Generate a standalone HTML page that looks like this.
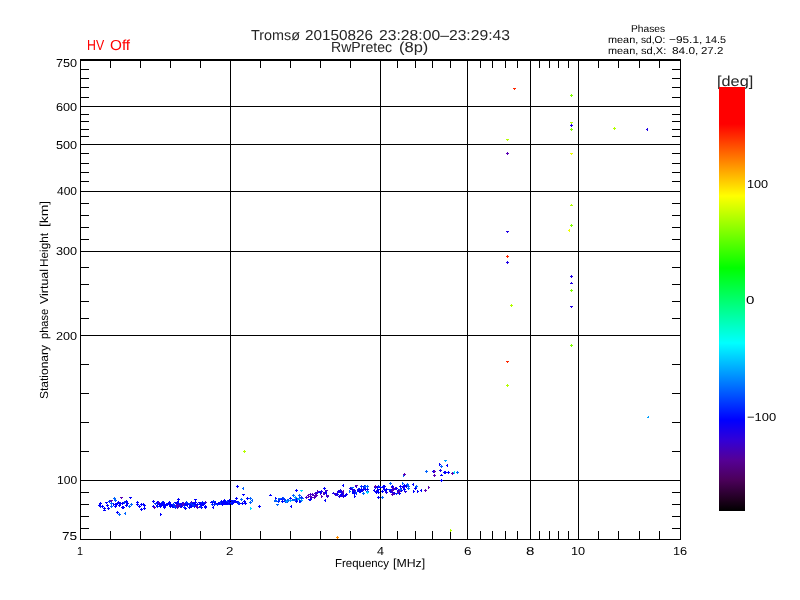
<!DOCTYPE html><html><head><meta charset="utf-8"><style>html,body{margin:0;padding:0;background:#fff;width:800px;height:600px;overflow:hidden}svg{display:block}text{font-family:"Liberation Sans",sans-serif;fill:#000}</style></head><body>
<svg width="800" height="600" viewBox="0 0 800 600" shape-rendering="crispEdges">
<rect width="800" height="600" fill="#fff"/>
<g fill="#000"><rect x="80" y="59" width="601" height="2"/><rect x="80" y="539" width="601" height="1"/><rect x="80" y="59" width="1" height="481"/><rect x="680" y="59" width="1" height="481"/><rect x="230" y="59" width="1" height="481"/><rect x="380" y="59" width="1" height="481"/><rect x="467" y="59" width="1" height="481"/><rect x="530" y="59" width="1" height="481"/><rect x="578" y="59" width="1" height="481"/><rect x="110" y="59" width="1" height="9"/><rect x="110" y="531" width="1" height="9"/><rect x="140" y="59" width="1" height="9"/><rect x="140" y="531" width="1" height="9"/><rect x="170" y="59" width="1" height="9"/><rect x="170" y="531" width="1" height="9"/><rect x="200" y="59" width="1" height="9"/><rect x="200" y="531" width="1" height="9"/><rect x="260" y="59" width="1" height="9"/><rect x="260" y="531" width="1" height="9"/><rect x="290" y="59" width="1" height="9"/><rect x="290" y="531" width="1" height="9"/><rect x="320" y="59" width="1" height="9"/><rect x="320" y="531" width="1" height="9"/><rect x="350" y="59" width="1" height="9"/><rect x="350" y="531" width="1" height="9"/><rect x="397" y="59" width="1" height="9"/><rect x="397" y="531" width="1" height="9"/><rect x="415" y="59" width="1" height="9"/><rect x="415" y="531" width="1" height="9"/><rect x="432" y="59" width="1" height="9"/><rect x="432" y="531" width="1" height="9"/><rect x="450" y="59" width="1" height="9"/><rect x="450" y="531" width="1" height="9"/><rect x="480" y="59" width="1" height="9"/><rect x="480" y="531" width="1" height="9"/><rect x="492" y="59" width="1" height="9"/><rect x="492" y="531" width="1" height="9"/><rect x="505" y="59" width="1" height="9"/><rect x="505" y="531" width="1" height="9"/><rect x="517" y="59" width="1" height="9"/><rect x="517" y="531" width="1" height="9"/><rect x="539" y="59" width="1" height="9"/><rect x="539" y="531" width="1" height="9"/><rect x="549" y="59" width="1" height="9"/><rect x="549" y="531" width="1" height="9"/><rect x="558" y="59" width="1" height="9"/><rect x="558" y="531" width="1" height="9"/><rect x="568" y="59" width="1" height="9"/><rect x="568" y="531" width="1" height="9"/><rect x="598" y="59" width="1" height="9"/><rect x="598" y="531" width="1" height="9"/><rect x="618" y="59" width="1" height="9"/><rect x="618" y="531" width="1" height="9"/><rect x="639" y="59" width="1" height="9"/><rect x="639" y="531" width="1" height="9"/><rect x="659" y="59" width="1" height="9"/><rect x="659" y="531" width="1" height="9"/><rect x="80" y="480" width="601" height="1"/><rect x="80" y="335" width="601" height="1"/><rect x="80" y="251" width="601" height="1"/><rect x="80" y="191" width="601" height="1"/><rect x="80" y="144" width="601" height="1"/><rect x="80" y="106" width="601" height="1"/><rect x="80" y="528" width="9" height="1"/><rect x="672" y="528" width="9" height="1"/><rect x="80" y="516" width="9" height="1"/><rect x="672" y="516" width="9" height="1"/><rect x="80" y="504" width="9" height="1"/><rect x="672" y="504" width="9" height="1"/><rect x="80" y="492" width="9" height="1"/><rect x="672" y="492" width="9" height="1"/><rect x="80" y="451" width="9" height="1"/><rect x="672" y="451" width="9" height="1"/><rect x="80" y="422" width="9" height="1"/><rect x="672" y="422" width="9" height="1"/><rect x="80" y="393" width="9" height="1"/><rect x="672" y="393" width="9" height="1"/><rect x="80" y="364" width="9" height="1"/><rect x="672" y="364" width="9" height="1"/><rect x="80" y="318" width="9" height="1"/><rect x="672" y="318" width="9" height="1"/><rect x="80" y="301" width="9" height="1"/><rect x="672" y="301" width="9" height="1"/><rect x="80" y="284" width="9" height="1"/><rect x="672" y="284" width="9" height="1"/><rect x="80" y="267" width="9" height="1"/><rect x="672" y="267" width="9" height="1"/><rect x="80" y="239" width="9" height="1"/><rect x="672" y="239" width="9" height="1"/><rect x="80" y="227" width="9" height="1"/><rect x="672" y="227" width="9" height="1"/><rect x="80" y="215" width="9" height="1"/><rect x="672" y="215" width="9" height="1"/><rect x="80" y="203" width="9" height="1"/><rect x="672" y="203" width="9" height="1"/><rect x="80" y="181" width="9" height="1"/><rect x="672" y="181" width="9" height="1"/><rect x="80" y="172" width="9" height="1"/><rect x="672" y="172" width="9" height="1"/><rect x="80" y="163" width="9" height="1"/><rect x="672" y="163" width="9" height="1"/><rect x="80" y="153" width="9" height="1"/><rect x="672" y="153" width="9" height="1"/><rect x="80" y="136" width="9" height="1"/><rect x="672" y="136" width="9" height="1"/><rect x="80" y="129" width="9" height="1"/><rect x="672" y="129" width="9" height="1"/><rect x="80" y="121" width="9" height="1"/><rect x="672" y="121" width="9" height="1"/><rect x="80" y="114" width="9" height="1"/><rect x="672" y="114" width="9" height="1"/><rect x="80" y="97" width="9" height="1"/><rect x="672" y="97" width="9" height="1"/><rect x="80" y="87" width="9" height="1"/><rect x="672" y="87" width="9" height="1"/><rect x="80" y="78" width="9" height="1"/><rect x="672" y="78" width="9" height="1"/><rect x="80" y="69" width="9" height="1"/><rect x="672" y="69" width="9" height="1"/></g>
<defs><linearGradient id="cb" x1="0" y1="87" x2="0" y2="511" gradientUnits="userSpaceOnUse">
<stop offset="0.0000" stop-color="rgb(255,0,0)"/>
<stop offset="0.0873" stop-color="rgb(255,0,0)"/>
<stop offset="0.2571" stop-color="rgb(255,255,0)"/>
<stop offset="0.4269" stop-color="rgb(0,255,0)"/>
<stop offset="0.6038" stop-color="rgb(0,255,255)"/>
<stop offset="0.7854" stop-color="rgb(0,0,255)"/>
<stop offset="0.8325" stop-color="rgb(50,0,215)"/>
<stop offset="0.8797" stop-color="rgb(85,0,150)"/>
<stop offset="0.9269" stop-color="rgb(75,0,90)"/>
<stop offset="0.9741" stop-color="rgb(30,0,30)"/>
<stop offset="1.0000" stop-color="rgb(0,0,0)"/>
</linearGradient></defs>

<g shape-rendering="auto" text-rendering="geometricPrecision" style="will-change:transform">
<text x="251.0" y="40" font-size="14.5" textLength="49.04" lengthAdjust="spacingAndGlyphs" style="fill:#262626">Tromsø</text>
<text x="305.0" y="40" font-size="14.5" textLength="68.08" lengthAdjust="spacingAndGlyphs" style="fill:#262626">20150826</text>
<text x="379.0" y="40" font-size="14.5" textLength="131.05" lengthAdjust="spacingAndGlyphs" style="fill:#262626">23:28:00–23:29:43</text>
<text x="331.0" y="52" font-size="14.5" textLength="61.07" lengthAdjust="spacingAndGlyphs" style="fill:#262626">RwPretec</text>
<text x="399.0" y="52" font-size="14.5" textLength="29.3" lengthAdjust="spacingAndGlyphs" style="fill:#262626">(8p)</text>
<text x="87.0" y="50" font-size="14.5" textLength="17.14" lengthAdjust="spacingAndGlyphs" style="fill:#f00">HV</text>
<text x="110.0" y="50" font-size="14.5" textLength="20.12" lengthAdjust="spacingAndGlyphs" style="fill:#f00">Off</text>
<text x="631.0" y="32" font-size="10" textLength="34.06" lengthAdjust="spacingAndGlyphs">Phases</text>
<text x="608.0" y="43" font-size="10" textLength="30.24" lengthAdjust="spacingAndGlyphs">mean,</text>
<text x="641.0" y="43" font-size="10" textLength="24.31" lengthAdjust="spacingAndGlyphs">sd,O:</text>
<text x="669.0" y="43" font-size="10" textLength="33.29" lengthAdjust="spacingAndGlyphs">−95.1,</text>
<text x="705.0" y="43" font-size="10" textLength="21.11" lengthAdjust="spacingAndGlyphs">14.5</text>
<text x="608.0" y="54" font-size="10" textLength="30.24" lengthAdjust="spacingAndGlyphs">mean,</text>
<text x="641.0" y="54" font-size="10" textLength="25.3" lengthAdjust="spacingAndGlyphs">sd,X:</text>
<text x="672.0" y="54" font-size="10" textLength="26.37" lengthAdjust="spacingAndGlyphs">84.0,</text>
<text x="701.0" y="54" font-size="10" textLength="22.28" lengthAdjust="spacingAndGlyphs">27.2</text>
<text x="335.0" y="567" font-size="11.6" textLength="54.04" lengthAdjust="spacingAndGlyphs">Frequency</text>
<text x="393.0" y="567" font-size="11.6" textLength="32.18" lengthAdjust="spacingAndGlyphs">[MHz]</text>
<text x="717.0" y="86" font-size="14.5" textLength="36.26" lengthAdjust="spacingAndGlyphs" style="fill:#262626">[deg]</text>
<text x="747.0" y="188" font-size="11.6" textLength="21.11" lengthAdjust="spacingAndGlyphs">100</text>
<text x="746.0" y="304" font-size="11.6" textLength="8.4" lengthAdjust="spacingAndGlyphs">0</text>
<text x="747.0" y="421" font-size="11.6" textLength="29.16" lengthAdjust="spacingAndGlyphs">−100</text>
<text x="56.0" y="67" font-size="11.6" textLength="21.11" lengthAdjust="spacingAndGlyphs">750</text>
<text x="56.0" y="111" font-size="11.6" textLength="21.11" lengthAdjust="spacingAndGlyphs">600</text>
<text x="56.0" y="149" font-size="11.6" textLength="21.11" lengthAdjust="spacingAndGlyphs">500</text>
<text x="57.0" y="195" font-size="11.6" textLength="20.0" lengthAdjust="spacingAndGlyphs">400</text>
<text x="56.0" y="255" font-size="11.6" textLength="21.11" lengthAdjust="spacingAndGlyphs">300</text>
<text x="56.0" y="340" font-size="11.6" textLength="21.11" lengthAdjust="spacingAndGlyphs">200</text>
<text x="57.0" y="484" font-size="11.6" textLength="20.12" lengthAdjust="spacingAndGlyphs">100</text>
<text x="62.0" y="540" font-size="11.6" textLength="15.17" lengthAdjust="spacingAndGlyphs">75</text>
<text x="77.0" y="555" font-size="11.6" textLength="6.0" lengthAdjust="spacingAndGlyphs">1</text>
<text x="226.0" y="555" font-size="11.6" textLength="7.43" lengthAdjust="spacingAndGlyphs">2</text>
<text x="377.0" y="555" font-size="11.6" textLength="7.0" lengthAdjust="spacingAndGlyphs">4</text>
<text x="464.0" y="555" font-size="11.6" textLength="7.5" lengthAdjust="spacingAndGlyphs">6</text>
<text x="526.0" y="555" font-size="11.6" textLength="8.4" lengthAdjust="spacingAndGlyphs">8</text>
<text x="571.0" y="555" font-size="11.6" textLength="14.18" lengthAdjust="spacingAndGlyphs">10</text>
<text x="673.0" y="555" font-size="11.6" textLength="14.18" lengthAdjust="spacingAndGlyphs">16</text>
<g transform="translate(48,398) rotate(-90)"><text x="-1.0" y="0" font-size="11.6" textLength="54.04" lengthAdjust="spacingAndGlyphs">Stationary</text><text x="59.0" y="0" font-size="11.6" textLength="30.07" lengthAdjust="spacingAndGlyphs">phase</text><text x="94.0" y="0" font-size="11.6" textLength="35.06" lengthAdjust="spacingAndGlyphs">Virtual</text><text x="131.0" y="0" font-size="11.6" textLength="34.06" lengthAdjust="spacingAndGlyphs">Height</text><text x="171.0" y="0" font-size="11.6" textLength="26.23" lengthAdjust="spacingAndGlyphs">[km]</text></g>
</g>
<rect x="719" y="87" width="26" height="424" fill="url(#cb)"/>
<g shape-rendering="crispEdges"><path d="M513 88h1v1h-1zM514 88h1v1h-1zM515 88h1v1h-1zM514 89h1v1h-1z" fill="#ff2800"/><path d="M571 95h1v1h-1zM570 95h1v1h-1zM572 95h1v1h-1zM571 94h1v1h-1zM571 96h1v1h-1z" fill="#80ff00"/><path d="M570 122h1v1h-1zM571 122h1v1h-1zM572 122h1v1h-1zM571 123h1v1h-1z" fill="#b4ff00"/><path d="M571 129h1v1h-1zM570 129h1v1h-1zM572 129h1v1h-1zM571 128h1v1h-1zM571 130h1v1h-1z" fill="#80ff00"/><path d="M571 125h1v1h-1zM570 125h1v1h-1zM572 125h1v1h-1zM571 124h1v1h-1zM571 126h1v1h-1z" fill="#2000e6"/><path d="M506 139h1v1h-1zM507 139h1v1h-1zM508 139h1v1h-1zM507 140h1v1h-1z" fill="#b4ff00"/><path d="M507 153h1v1h-1zM506 153h1v1h-1zM508 153h1v1h-1zM507 152h1v1h-1zM507 154h1v1h-1z" fill="#5a00b4"/><path d="M570 153h1v1h-1zM571 153h1v1h-1zM572 153h1v1h-1zM571 154h1v1h-1z" fill="#f0ff00"/><path d="M571 204h1v1h-1zM570 205h1v1h-1zM571 205h1v1h-1zM572 205h1v1h-1z" fill="#b4ff00"/><path d="M571 225h1v1h-1zM570 225h1v1h-1zM572 225h1v1h-1zM571 224h1v1h-1zM571 226h1v1h-1z" fill="#80ff00"/><path d="M569 229h1v1h-1zM569 230h1v1h-1zM569 231h1v1h-1zM568 230h1v1h-1z" fill="#f0ff00"/><path d="M506 231h1v1h-1zM507 231h1v1h-1zM508 231h1v1h-1zM507 232h1v1h-1z" fill="#2000e6"/><path d="M507 256h1v1h-1zM506 256h1v1h-1zM508 256h1v1h-1zM507 255h1v1h-1zM507 257h1v1h-1z" fill="#ff2800"/><path d="M507 262h1v1h-1zM506 262h1v1h-1zM508 262h1v1h-1zM507 261h1v1h-1zM507 263h1v1h-1z" fill="#2000e6"/><path d="M571 276h1v1h-1zM570 276h1v1h-1zM572 276h1v1h-1zM571 275h1v1h-1zM571 277h1v1h-1z" fill="#2000e6"/><path d="M571 282h1v1h-1zM570 283h1v1h-1zM571 283h1v1h-1zM572 283h1v1h-1z" fill="#2000e6"/><path d="M571 290h1v1h-1zM570 290h1v1h-1zM572 290h1v1h-1zM571 289h1v1h-1zM571 291h1v1h-1z" fill="#80ff00"/><path d="M511 305h1v1h-1zM510 305h1v1h-1zM512 305h1v1h-1zM511 304h1v1h-1zM511 306h1v1h-1z" fill="#b4ff00"/><path d="M570 306h1v1h-1zM571 306h1v1h-1zM572 306h1v1h-1zM571 307h1v1h-1z" fill="#2000e6"/><path d="M571 345h1v1h-1zM570 345h1v1h-1zM572 345h1v1h-1zM571 344h1v1h-1zM571 346h1v1h-1z" fill="#80ff00"/><path d="M506 361h1v1h-1zM507 361h1v1h-1zM508 361h1v1h-1zM507 362h1v1h-1z" fill="#ff2800"/><path d="M507 385h1v1h-1zM506 385h1v1h-1zM508 385h1v1h-1zM507 384h1v1h-1zM507 386h1v1h-1z" fill="#b4ff00"/><path d="M614 128h1v1h-1zM613 128h1v1h-1zM615 128h1v1h-1zM614 127h1v1h-1zM614 129h1v1h-1z" fill="#b4ff00"/><path d="M647 128h1v1h-1zM647 129h1v1h-1zM647 130h1v1h-1zM646 129h1v1h-1z" fill="#2000e6"/><path d="M647 417h1v1h-1zM648 417h1v1h-1zM648 416h1v1h-1z" fill="#00a0ff"/><path d="M244 451h1v1h-1zM243 451h1v1h-1zM245 451h1v1h-1zM244 450h1v1h-1zM244 452h1v1h-1z" fill="#b4ff00"/><path d="M337 537h1v1h-1zM336 537h1v1h-1zM338 537h1v1h-1zM337 536h1v1h-1zM337 538h1v1h-1z" fill="#ff8c00"/><path d="M450 529h1v1h-1zM450 530h1v1h-1zM450 531h1v1h-1zM451 530h1v1h-1z" fill="#b4ff00"/><path d="M113 503h1v1h-1zM113 504h1v1h-1zM113 505h1v1h-1zM114 504h1v1h-1z" fill="#0000ff"/><path d="M115 503h1v1h-1zM115 504h1v1h-1zM115 505h1v1h-1zM116 504h1v1h-1z" fill="#0000ff"/><path d="M119 504h1v1h-1zM119 505h1v1h-1zM119 506h1v1h-1zM120 505h1v1h-1z" fill="#0000ff"/><path d="M109 501h1v1h-1zM108 501h1v1h-1zM110 501h1v1h-1zM109 500h1v1h-1zM109 502h1v1h-1z" fill="#0030ff"/><path d="M118 502h1v1h-1zM117 502h1v1h-1zM119 502h1v1h-1zM118 501h1v1h-1zM118 503h1v1h-1z" fill="#0000ff"/><path d="M119 505h1v1h-1zM118 505h1v1h-1zM120 505h1v1h-1zM119 504h1v1h-1zM119 506h1v1h-1z" fill="#0000ff"/><path d="M100 506h1v1h-1zM99 506h1v1h-1zM101 506h1v1h-1zM100 505h1v1h-1zM100 507h1v1h-1z" fill="#0030ff"/><path d="M124 502h1v1h-1zM123 502h1v1h-1zM125 502h1v1h-1zM124 501h1v1h-1zM124 503h1v1h-1z" fill="#0030ff"/><path d="M116 504h1v1h-1zM115 504h1v1h-1zM117 504h1v1h-1zM116 503h1v1h-1zM116 505h1v1h-1z" fill="#0000ff"/><path d="M187 503h1v1h-1zM187 504h1v1h-1zM187 505h1v1h-1zM186 504h1v1h-1z" fill="#0000ff"/><path d="M204 507h1v1h-1zM205 507h1v1h-1zM206 507h1v1h-1zM205 508h1v1h-1z" fill="#0000ff"/><path d="M169 503h1v1h-1zM168 503h1v1h-1zM170 503h1v1h-1zM169 502h1v1h-1zM169 504h1v1h-1z" fill="#0000ff"/><path d="M157 506h1v1h-1zM156 506h1v1h-1zM158 506h1v1h-1zM157 505h1v1h-1zM157 507h1v1h-1z" fill="#0030ff"/><path d="M197 504h1v1h-1zM196 504h1v1h-1zM198 504h1v1h-1zM197 503h1v1h-1zM197 505h1v1h-1z" fill="#0000ff"/><path d="M164 506h1v1h-1zM164 507h1v1h-1zM164 508h1v1h-1zM165 507h1v1h-1z" fill="#0000ff"/><path d="M173 505h1v1h-1zM172 505h1v1h-1zM174 505h1v1h-1zM173 504h1v1h-1zM173 506h1v1h-1z" fill="#0030ff"/><path d="M182 502h1v1h-1zM181 503h1v1h-1zM182 503h1v1h-1zM183 503h1v1h-1z" fill="#0000ff"/><path d="M158 503h1v1h-1zM157 503h1v1h-1zM159 503h1v1h-1zM158 502h1v1h-1zM158 504h1v1h-1z" fill="#0030ff"/><path d="M160 505h1v1h-1zM159 505h1v1h-1zM161 505h1v1h-1zM160 504h1v1h-1zM160 506h1v1h-1z" fill="#0000ff"/><path d="M177 504h1v1h-1zM176 504h1v1h-1zM178 504h1v1h-1zM177 503h1v1h-1zM177 505h1v1h-1z" fill="#4600c8"/><path d="M176 502h1v1h-1zM176 503h1v1h-1zM176 504h1v1h-1zM175 503h1v1h-1z" fill="#0000ff"/><path d="M186 502h1v1h-1zM185 502h1v1h-1zM187 502h1v1h-1zM186 501h1v1h-1zM186 503h1v1h-1z" fill="#0030ff"/><path d="M153 506h1v1h-1zM152 506h1v1h-1zM154 506h1v1h-1zM153 505h1v1h-1zM153 507h1v1h-1z" fill="#0000ff"/><path d="M164 504h1v1h-1zM163 504h1v1h-1zM165 504h1v1h-1zM164 503h1v1h-1zM164 505h1v1h-1z" fill="#0000ff"/><path d="M204 503h1v1h-1zM203 503h1v1h-1zM205 503h1v1h-1zM204 502h1v1h-1zM204 504h1v1h-1z" fill="#0000ff"/><path d="M193 502h1v1h-1zM193 503h1v1h-1zM193 504h1v1h-1zM192 503h1v1h-1z" fill="#0000ff"/><path d="M157 502h1v1h-1zM156 502h1v1h-1zM158 502h1v1h-1zM157 501h1v1h-1zM157 503h1v1h-1z" fill="#0000ff"/><path d="M184 504h1v1h-1zM183 504h1v1h-1zM185 504h1v1h-1zM184 503h1v1h-1zM184 505h1v1h-1z" fill="#0030ff"/><path d="M203 503h1v1h-1zM203 504h1v1h-1zM203 505h1v1h-1zM202 504h1v1h-1z" fill="#0000ff"/><path d="M163 502h1v1h-1zM162 502h1v1h-1zM164 502h1v1h-1zM163 501h1v1h-1zM163 503h1v1h-1z" fill="#0000ff"/><path d="M191 502h1v1h-1zM190 502h1v1h-1zM192 502h1v1h-1zM191 501h1v1h-1zM191 503h1v1h-1z" fill="#4600c8"/><path d="M189 504h1v1h-1zM188 504h1v1h-1zM190 504h1v1h-1zM189 503h1v1h-1zM189 505h1v1h-1z" fill="#0030ff"/><path d="M174 502h1v1h-1zM175 502h1v1h-1zM176 502h1v1h-1zM175 503h1v1h-1z" fill="#0000ff"/><path d="M165 504h1v1h-1zM165 505h1v1h-1zM165 506h1v1h-1zM164 505h1v1h-1z" fill="#0000ff"/><path d="M196 505h1v1h-1zM195 505h1v1h-1zM197 505h1v1h-1zM196 504h1v1h-1zM196 506h1v1h-1z" fill="#0000ff"/><path d="M201 507h1v1h-1zM200 507h1v1h-1zM202 507h1v1h-1zM201 506h1v1h-1zM201 508h1v1h-1z" fill="#0000ff"/><path d="M177 505h1v1h-1zM178 505h1v1h-1zM179 505h1v1h-1zM178 506h1v1h-1z" fill="#0000ff"/><path d="M164 507h1v1h-1zM163 507h1v1h-1zM165 507h1v1h-1zM164 506h1v1h-1zM164 508h1v1h-1z" fill="#0000ff"/><path d="M167 504h1v1h-1zM166 504h1v1h-1zM168 504h1v1h-1zM167 503h1v1h-1zM167 505h1v1h-1z" fill="#0000ff"/><path d="M162 504h1v1h-1zM161 504h1v1h-1zM163 504h1v1h-1zM162 503h1v1h-1zM162 505h1v1h-1z" fill="#0000ff"/><path d="M172 506h1v1h-1zM171 506h1v1h-1zM173 506h1v1h-1zM172 505h1v1h-1zM172 507h1v1h-1z" fill="#0000ff"/><path d="M184 506h1v1h-1zM183 507h1v1h-1zM184 507h1v1h-1zM185 507h1v1h-1z" fill="#0030ff"/><path d="M189 507h1v1h-1zM188 507h1v1h-1zM190 507h1v1h-1zM189 506h1v1h-1zM189 508h1v1h-1z" fill="#0000ff"/><path d="M178 506h1v1h-1zM177 506h1v1h-1zM179 506h1v1h-1zM178 505h1v1h-1zM178 507h1v1h-1z" fill="#0000ff"/><path d="M205 501h1v1h-1zM204 502h1v1h-1zM205 502h1v1h-1zM206 502h1v1h-1z" fill="#4600c8"/><path d="M191 505h1v1h-1zM190 506h1v1h-1zM191 506h1v1h-1zM192 506h1v1h-1z" fill="#0000ff"/><path d="M171 504h1v1h-1zM171 505h1v1h-1zM171 506h1v1h-1zM170 505h1v1h-1z" fill="#0000ff"/><path d="M202 502h1v1h-1zM201 502h1v1h-1zM203 502h1v1h-1zM202 501h1v1h-1zM202 503h1v1h-1z" fill="#0030ff"/><path d="M185 504h1v1h-1zM184 504h1v1h-1zM186 504h1v1h-1zM185 503h1v1h-1zM185 505h1v1h-1z" fill="#0000ff"/><path d="M157 504h1v1h-1zM157 505h1v1h-1zM157 506h1v1h-1zM156 505h1v1h-1z" fill="#0000ff"/><path d="M191 503h1v1h-1zM191 504h1v1h-1zM191 505h1v1h-1zM192 504h1v1h-1z" fill="#0030ff"/><path d="M177 504h1v1h-1zM176 504h1v1h-1zM178 504h1v1h-1zM177 503h1v1h-1zM177 505h1v1h-1z" fill="#4600c8"/><path d="M169 502h1v1h-1zM168 502h1v1h-1zM170 502h1v1h-1zM169 501h1v1h-1zM169 503h1v1h-1z" fill="#0000ff"/><path d="M202 502h1v1h-1zM203 502h1v1h-1zM204 502h1v1h-1zM203 503h1v1h-1z" fill="#0030ff"/><path d="M200 504h1v1h-1zM199 504h1v1h-1zM201 504h1v1h-1zM200 503h1v1h-1zM200 505h1v1h-1z" fill="#0000ff"/><path d="M180 505h1v1h-1zM180 506h1v1h-1zM180 507h1v1h-1zM181 506h1v1h-1z" fill="#0000ff"/><path d="M178 503h1v1h-1zM179 503h1v1h-1zM180 503h1v1h-1zM179 504h1v1h-1z" fill="#0030ff"/><path d="M163 504h1v1h-1zM162 504h1v1h-1zM164 504h1v1h-1zM163 503h1v1h-1zM163 505h1v1h-1z" fill="#0000ff"/><path d="M173 505h1v1h-1zM172 505h1v1h-1zM174 505h1v1h-1zM173 504h1v1h-1zM173 506h1v1h-1z" fill="#0000ff"/><path d="M160 504h1v1h-1zM159 504h1v1h-1zM161 504h1v1h-1zM160 503h1v1h-1zM160 505h1v1h-1z" fill="#0000ff"/><path d="M202 503h1v1h-1zM201 503h1v1h-1zM203 503h1v1h-1zM202 502h1v1h-1zM202 504h1v1h-1z" fill="#0000ff"/><path d="M176 502h1v1h-1zM176 503h1v1h-1zM176 504h1v1h-1zM175 503h1v1h-1z" fill="#0000ff"/><path d="M173 503h1v1h-1zM173 504h1v1h-1zM173 505h1v1h-1zM174 504h1v1h-1z" fill="#0000ff"/><path d="M170 506h1v1h-1zM169 506h1v1h-1zM171 506h1v1h-1zM170 505h1v1h-1zM170 507h1v1h-1z" fill="#0000ff"/><path d="M187 503h1v1h-1zM188 503h1v1h-1zM189 503h1v1h-1zM188 504h1v1h-1z" fill="#0000ff"/><path d="M187 504h1v1h-1zM187 505h1v1h-1zM187 506h1v1h-1zM186 505h1v1h-1z" fill="#0000ff"/><path d="M177 502h1v1h-1zM176 502h1v1h-1zM178 502h1v1h-1zM177 501h1v1h-1zM177 503h1v1h-1z" fill="#0000ff"/><path d="M194 505h1v1h-1zM194 506h1v1h-1zM194 507h1v1h-1zM195 506h1v1h-1z" fill="#0000ff"/><path d="M159 504h1v1h-1zM158 504h1v1h-1zM160 504h1v1h-1zM159 503h1v1h-1zM159 505h1v1h-1z" fill="#0000ff"/><path d="M188 503h1v1h-1zM189 503h1v1h-1zM190 503h1v1h-1zM189 504h1v1h-1z" fill="#0030ff"/><path d="M162 502h1v1h-1zM161 502h1v1h-1zM163 502h1v1h-1zM162 501h1v1h-1zM162 503h1v1h-1z" fill="#0030ff"/><path d="M162 503h1v1h-1zM161 503h1v1h-1zM163 503h1v1h-1zM162 502h1v1h-1zM162 504h1v1h-1z" fill="#0000ff"/><path d="M173 506h1v1h-1zM172 506h1v1h-1zM174 506h1v1h-1zM173 505h1v1h-1zM173 507h1v1h-1z" fill="#0000ff"/><path d="M174 506h1v1h-1zM173 506h1v1h-1zM175 506h1v1h-1zM174 505h1v1h-1zM174 507h1v1h-1z" fill="#0030ff"/><path d="M176 502h1v1h-1zM176 503h1v1h-1zM176 504h1v1h-1zM175 503h1v1h-1z" fill="#0000ff"/><path d="M182 504h1v1h-1zM181 505h1v1h-1zM182 505h1v1h-1zM183 505h1v1h-1z" fill="#4600c8"/><path d="M177 505h1v1h-1zM176 505h1v1h-1zM178 505h1v1h-1zM177 504h1v1h-1zM177 506h1v1h-1z" fill="#0000ff"/><path d="M191 506h1v1h-1zM190 506h1v1h-1zM192 506h1v1h-1zM191 505h1v1h-1zM191 507h1v1h-1z" fill="#0000ff"/><path d="M165 504h1v1h-1zM166 504h1v1h-1zM167 504h1v1h-1zM166 505h1v1h-1z" fill="#0000ff"/><path d="M180 506h1v1h-1zM181 506h1v1h-1zM182 506h1v1h-1zM181 507h1v1h-1z" fill="#0000ff"/><path d="M200 506h1v1h-1zM199 506h1v1h-1zM201 506h1v1h-1zM200 505h1v1h-1zM200 507h1v1h-1z" fill="#0000ff"/><path d="M154 503h1v1h-1zM155 503h1v1h-1zM156 503h1v1h-1zM155 504h1v1h-1z" fill="#0030ff"/><path d="M178 501h1v1h-1zM178 502h1v1h-1zM178 503h1v1h-1zM177 502h1v1h-1z" fill="#0000ff"/><path d="M195 502h1v1h-1zM194 502h1v1h-1zM196 502h1v1h-1zM195 501h1v1h-1zM195 503h1v1h-1z" fill="#0000ff"/><path d="M177 506h1v1h-1zM177 507h1v1h-1zM177 508h1v1h-1zM178 507h1v1h-1z" fill="#4600c8"/><path d="M202 504h1v1h-1zM201 504h1v1h-1zM203 504h1v1h-1zM202 503h1v1h-1zM202 505h1v1h-1z" fill="#0000ff"/><path d="M176 505h1v1h-1zM175 505h1v1h-1zM177 505h1v1h-1zM176 504h1v1h-1zM176 506h1v1h-1z" fill="#4600c8"/><path d="M179 506h1v1h-1zM180 506h1v1h-1zM181 506h1v1h-1zM180 507h1v1h-1z" fill="#4600c8"/><path d="M168 504h1v1h-1zM169 504h1v1h-1zM170 504h1v1h-1zM169 505h1v1h-1z" fill="#0000ff"/><path d="M196 507h1v1h-1zM197 507h1v1h-1zM198 507h1v1h-1zM197 508h1v1h-1z" fill="#4600c8"/><path d="M183 503h1v1h-1zM182 503h1v1h-1zM184 503h1v1h-1zM183 502h1v1h-1zM183 504h1v1h-1z" fill="#4600c8"/><path d="M179 505h1v1h-1zM178 505h1v1h-1zM180 505h1v1h-1zM179 504h1v1h-1zM179 506h1v1h-1z" fill="#0000ff"/><path d="M180 503h1v1h-1zM180 504h1v1h-1zM180 505h1v1h-1zM181 504h1v1h-1z" fill="#0000ff"/><path d="M158 501h1v1h-1zM158 502h1v1h-1zM158 503h1v1h-1zM159 502h1v1h-1z" fill="#4600c8"/><path d="M174 507h1v1h-1zM175 507h1v1h-1zM176 507h1v1h-1zM175 508h1v1h-1z" fill="#0030ff"/><path d="M166 503h1v1h-1zM166 504h1v1h-1zM166 505h1v1h-1zM165 504h1v1h-1z" fill="#0000ff"/><path d="M200 506h1v1h-1zM199 507h1v1h-1zM200 507h1v1h-1zM201 507h1v1h-1z" fill="#0030ff"/><path d="M158 504h1v1h-1zM159 504h1v1h-1zM160 504h1v1h-1zM159 505h1v1h-1z" fill="#0000ff"/><path d="M160 506h1v1h-1zM159 506h1v1h-1zM161 506h1v1h-1zM160 505h1v1h-1zM160 507h1v1h-1z" fill="#0000ff"/><path d="M163 502h1v1h-1zM162 503h1v1h-1zM163 503h1v1h-1zM164 503h1v1h-1z" fill="#0000ff"/><path d="M191 503h1v1h-1zM190 503h1v1h-1zM192 503h1v1h-1zM191 502h1v1h-1zM191 504h1v1h-1z" fill="#0030ff"/><path d="M178 505h1v1h-1zM179 505h1v1h-1zM180 505h1v1h-1zM179 506h1v1h-1z" fill="#4600c8"/><path d="M190 505h1v1h-1zM189 505h1v1h-1zM191 505h1v1h-1zM190 504h1v1h-1zM190 506h1v1h-1z" fill="#0030ff"/><path d="M173 504h1v1h-1zM172 504h1v1h-1zM174 504h1v1h-1zM173 503h1v1h-1zM173 505h1v1h-1z" fill="#4600c8"/><path d="M181 506h1v1h-1zM180 506h1v1h-1zM182 506h1v1h-1zM181 505h1v1h-1zM181 507h1v1h-1z" fill="#4600c8"/><path d="M181 506h1v1h-1zM180 506h1v1h-1zM182 506h1v1h-1zM181 505h1v1h-1zM181 507h1v1h-1z" fill="#0000ff"/><path d="M201 505h1v1h-1zM200 505h1v1h-1zM202 505h1v1h-1zM201 504h1v1h-1zM201 506h1v1h-1z" fill="#0000ff"/><path d="M169 503h1v1h-1zM168 503h1v1h-1zM170 503h1v1h-1zM169 502h1v1h-1zM169 504h1v1h-1z" fill="#0000ff"/><path d="M193 503h1v1h-1zM192 503h1v1h-1zM194 503h1v1h-1zM193 502h1v1h-1zM193 504h1v1h-1z" fill="#0000ff"/><path d="M198 502h1v1h-1zM199 502h1v1h-1zM200 502h1v1h-1zM199 503h1v1h-1z" fill="#0000ff"/><path d="M173 504h1v1h-1zM172 504h1v1h-1zM174 504h1v1h-1zM173 503h1v1h-1zM173 505h1v1h-1z" fill="#0030ff"/><path d="M163 505h1v1h-1zM162 505h1v1h-1zM164 505h1v1h-1zM163 504h1v1h-1zM163 506h1v1h-1z" fill="#0000ff"/><path d="M163 505h1v1h-1zM162 505h1v1h-1zM164 505h1v1h-1zM163 504h1v1h-1zM163 506h1v1h-1z" fill="#0000ff"/><path d="M190 505h1v1h-1zM189 505h1v1h-1zM191 505h1v1h-1zM190 504h1v1h-1zM190 506h1v1h-1z" fill="#0000ff"/><path d="M195 504h1v1h-1zM194 504h1v1h-1zM196 504h1v1h-1zM195 503h1v1h-1zM195 505h1v1h-1z" fill="#0000ff"/><path d="M193 505h1v1h-1zM192 505h1v1h-1zM194 505h1v1h-1zM193 504h1v1h-1zM193 506h1v1h-1z" fill="#0030ff"/><path d="M163 502h1v1h-1zM162 502h1v1h-1zM164 502h1v1h-1zM163 501h1v1h-1zM163 503h1v1h-1z" fill="#0000ff"/><path d="M239 503h1v1h-1zM238 503h1v1h-1zM240 503h1v1h-1zM239 502h1v1h-1zM239 504h1v1h-1z" fill="#0000ff"/><path d="M215 503h1v1h-1zM214 503h1v1h-1zM216 503h1v1h-1zM215 502h1v1h-1zM215 504h1v1h-1z" fill="#0000ff"/><path d="M220 501h1v1h-1zM219 502h1v1h-1zM220 502h1v1h-1zM221 502h1v1h-1z" fill="#0030ff"/><path d="M223 503h1v1h-1zM222 503h1v1h-1zM224 503h1v1h-1zM223 502h1v1h-1zM223 504h1v1h-1z" fill="#0000ff"/><path d="M235 500h1v1h-1zM234 501h1v1h-1zM235 501h1v1h-1zM236 501h1v1h-1z" fill="#0000ff"/><path d="M232 502h1v1h-1zM231 502h1v1h-1zM233 502h1v1h-1zM232 501h1v1h-1zM232 503h1v1h-1z" fill="#0000ff"/><path d="M214 504h1v1h-1zM213 504h1v1h-1zM215 504h1v1h-1zM214 503h1v1h-1zM214 505h1v1h-1z" fill="#0000ff"/><path d="M233 501h1v1h-1zM233 502h1v1h-1zM233 503h1v1h-1zM232 502h1v1h-1z" fill="#0030ff"/><path d="M227 500h1v1h-1zM226 501h1v1h-1zM227 501h1v1h-1zM228 501h1v1h-1z" fill="#0030ff"/><path d="M234 501h1v1h-1zM233 501h1v1h-1zM235 501h1v1h-1zM234 500h1v1h-1zM234 502h1v1h-1z" fill="#0000ff"/><path d="M234 500h1v1h-1zM233 501h1v1h-1zM234 501h1v1h-1zM235 501h1v1h-1z" fill="#0000ff"/><path d="M232 503h1v1h-1zM231 503h1v1h-1zM233 503h1v1h-1zM232 502h1v1h-1zM232 504h1v1h-1z" fill="#0000ff"/><path d="M230 500h1v1h-1zM231 500h1v1h-1zM232 500h1v1h-1zM231 501h1v1h-1z" fill="#0000ff"/><path d="M224 500h1v1h-1zM223 500h1v1h-1zM225 500h1v1h-1zM224 499h1v1h-1zM224 501h1v1h-1z" fill="#0000ff"/><path d="M216 504h1v1h-1zM217 504h1v1h-1zM218 504h1v1h-1zM217 505h1v1h-1z" fill="#0030ff"/><path d="M220 503h1v1h-1zM219 503h1v1h-1zM221 503h1v1h-1zM220 502h1v1h-1zM220 504h1v1h-1z" fill="#0030ff"/><path d="M226 502h1v1h-1zM225 502h1v1h-1zM227 502h1v1h-1zM226 501h1v1h-1zM226 503h1v1h-1z" fill="#0000ff"/><path d="M231 503h1v1h-1zM230 503h1v1h-1zM232 503h1v1h-1zM231 502h1v1h-1zM231 504h1v1h-1z" fill="#0030ff"/><path d="M213 501h1v1h-1zM214 501h1v1h-1zM215 501h1v1h-1zM214 502h1v1h-1z" fill="#0000ff"/><path d="M223 501h1v1h-1zM223 502h1v1h-1zM223 503h1v1h-1zM222 502h1v1h-1z" fill="#0000ff"/><path d="M211 501h1v1h-1zM210 502h1v1h-1zM211 502h1v1h-1zM212 502h1v1h-1z" fill="#0000ff"/><path d="M226 502h1v1h-1zM225 502h1v1h-1zM227 502h1v1h-1zM226 501h1v1h-1zM226 503h1v1h-1z" fill="#0030ff"/><path d="M229 503h1v1h-1zM228 503h1v1h-1zM230 503h1v1h-1zM229 502h1v1h-1zM229 504h1v1h-1z" fill="#0000ff"/><path d="M222 503h1v1h-1zM222 504h1v1h-1zM222 505h1v1h-1zM223 504h1v1h-1z" fill="#0000ff"/><path d="M238 503h1v1h-1zM237 503h1v1h-1zM239 503h1v1h-1zM238 502h1v1h-1zM238 504h1v1h-1z" fill="#0030ff"/><path d="M223 501h1v1h-1zM223 502h1v1h-1zM223 503h1v1h-1zM222 502h1v1h-1z" fill="#0000ff"/><path d="M228 501h1v1h-1zM228 502h1v1h-1zM228 503h1v1h-1zM229 502h1v1h-1z" fill="#0000ff"/><path d="M228 502h1v1h-1zM229 502h1v1h-1zM230 502h1v1h-1zM229 503h1v1h-1z" fill="#0000ff"/><path d="M212 504h1v1h-1zM211 504h1v1h-1zM213 504h1v1h-1zM212 503h1v1h-1zM212 505h1v1h-1z" fill="#0030ff"/><path d="M229 501h1v1h-1zM229 502h1v1h-1zM229 503h1v1h-1zM228 502h1v1h-1z" fill="#0030ff"/><path d="M212 502h1v1h-1zM211 502h1v1h-1zM213 502h1v1h-1zM212 501h1v1h-1zM212 503h1v1h-1z" fill="#0000ff"/><path d="M227 503h1v1h-1zM226 503h1v1h-1zM228 503h1v1h-1zM227 502h1v1h-1zM227 504h1v1h-1z" fill="#0000ff"/><path d="M233 500h1v1h-1zM233 501h1v1h-1zM233 502h1v1h-1zM234 501h1v1h-1z" fill="#0030ff"/><path d="M218 503h1v1h-1zM217 503h1v1h-1zM219 503h1v1h-1zM218 502h1v1h-1zM218 504h1v1h-1z" fill="#0000ff"/><path d="M237 502h1v1h-1zM236 502h1v1h-1zM238 502h1v1h-1zM237 501h1v1h-1zM237 503h1v1h-1z" fill="#0000ff"/><path d="M238 502h1v1h-1zM237 502h1v1h-1zM239 502h1v1h-1zM238 501h1v1h-1zM238 503h1v1h-1z" fill="#0030ff"/><path d="M212 502h1v1h-1zM211 502h1v1h-1zM213 502h1v1h-1zM212 501h1v1h-1zM212 503h1v1h-1z" fill="#0000ff"/><path d="M235 501h1v1h-1zM234 501h1v1h-1zM236 501h1v1h-1zM235 500h1v1h-1zM235 502h1v1h-1z" fill="#0000ff"/><path d="M221 500h1v1h-1zM221 501h1v1h-1zM221 502h1v1h-1zM222 501h1v1h-1z" fill="#0000ff"/><path d="M228 502h1v1h-1zM228 503h1v1h-1zM228 504h1v1h-1zM227 503h1v1h-1z" fill="#0030ff"/><path d="M220 503h1v1h-1zM221 503h1v1h-1zM222 503h1v1h-1zM221 504h1v1h-1z" fill="#0000ff"/><path d="M231 501h1v1h-1zM232 501h1v1h-1zM233 501h1v1h-1zM232 502h1v1h-1z" fill="#0000ff"/><path d="M232 502h1v1h-1zM233 502h1v1h-1zM234 502h1v1h-1zM233 503h1v1h-1z" fill="#0000ff"/><path d="M219 503h1v1h-1zM218 503h1v1h-1zM220 503h1v1h-1zM219 502h1v1h-1zM219 504h1v1h-1z" fill="#0030ff"/><path d="M229 503h1v1h-1zM228 503h1v1h-1zM230 503h1v1h-1zM229 502h1v1h-1zM229 504h1v1h-1z" fill="#0000ff"/><path d="M225 503h1v1h-1zM224 503h1v1h-1zM226 503h1v1h-1zM225 502h1v1h-1zM225 504h1v1h-1z" fill="#0000ff"/><path d="M229 499h1v1h-1zM229 500h1v1h-1zM229 501h1v1h-1zM228 500h1v1h-1z" fill="#0000ff"/><path d="M211 501h1v1h-1zM212 501h1v1h-1zM213 501h1v1h-1zM212 502h1v1h-1z" fill="#0000ff"/><path d="M213 501h1v1h-1zM212 501h1v1h-1zM214 501h1v1h-1zM213 500h1v1h-1zM213 502h1v1h-1z" fill="#0030ff"/><path d="M226 502h1v1h-1zM226 503h1v1h-1zM226 504h1v1h-1zM227 503h1v1h-1z" fill="#0000ff"/><path d="M224 500h1v1h-1zM224 501h1v1h-1zM224 502h1v1h-1zM225 501h1v1h-1z" fill="#0000ff"/><path d="M232 503h1v1h-1zM231 503h1v1h-1zM233 503h1v1h-1zM232 502h1v1h-1zM232 504h1v1h-1z" fill="#0000ff"/><path d="M224 502h1v1h-1zM224 503h1v1h-1zM224 504h1v1h-1zM225 503h1v1h-1z" fill="#0000ff"/><path d="M223 500h1v1h-1zM222 501h1v1h-1zM223 501h1v1h-1zM224 501h1v1h-1z" fill="#0000ff"/><path d="M215 503h1v1h-1zM214 504h1v1h-1zM215 504h1v1h-1zM216 504h1v1h-1z" fill="#0030ff"/><path d="M219 502h1v1h-1zM219 503h1v1h-1zM219 504h1v1h-1zM218 503h1v1h-1z" fill="#0000ff"/><path d="M292 499h1v1h-1zM291 500h1v1h-1zM292 500h1v1h-1zM293 500h1v1h-1z" fill="#00a0ff"/><path d="M275 497h1v1h-1zM275 498h1v1h-1zM275 499h1v1h-1zM276 498h1v1h-1z" fill="#0000ff"/><path d="M297 499h1v1h-1zM296 499h1v1h-1zM298 499h1v1h-1zM297 498h1v1h-1zM297 500h1v1h-1z" fill="#0064ff"/><path d="M282 501h1v1h-1zM281 501h1v1h-1zM283 501h1v1h-1zM282 500h1v1h-1zM282 502h1v1h-1z" fill="#0000ff"/><path d="M292 499h1v1h-1zM293 499h1v1h-1zM294 499h1v1h-1zM293 500h1v1h-1z" fill="#0030ff"/><path d="M299 497h1v1h-1zM298 498h1v1h-1zM299 498h1v1h-1zM300 498h1v1h-1z" fill="#0030ff"/><path d="M298 498h1v1h-1zM299 498h1v1h-1zM300 498h1v1h-1zM299 499h1v1h-1z" fill="#00a0ff"/><path d="M286 500h1v1h-1zM286 501h1v1h-1zM286 502h1v1h-1zM287 501h1v1h-1z" fill="#0030ff"/><path d="M282 499h1v1h-1zM281 499h1v1h-1zM283 499h1v1h-1zM282 498h1v1h-1zM282 500h1v1h-1z" fill="#0000ff"/><path d="M275 500h1v1h-1zM274 501h1v1h-1zM275 501h1v1h-1zM276 501h1v1h-1z" fill="#0064ff"/><path d="M293 499h1v1h-1zM292 500h1v1h-1zM293 500h1v1h-1zM294 500h1v1h-1z" fill="#0064ff"/><path d="M296 499h1v1h-1zM295 499h1v1h-1zM297 499h1v1h-1zM296 498h1v1h-1zM296 500h1v1h-1z" fill="#0000ff"/><path d="M278 501h1v1h-1zM277 501h1v1h-1zM279 501h1v1h-1zM278 500h1v1h-1zM278 502h1v1h-1z" fill="#0030ff"/><path d="M278 498h1v1h-1zM279 498h1v1h-1zM280 498h1v1h-1zM279 499h1v1h-1z" fill="#0064ff"/><path d="M301 500h1v1h-1zM300 500h1v1h-1zM302 500h1v1h-1zM301 499h1v1h-1zM301 501h1v1h-1z" fill="#00a0ff"/><path d="M290 498h1v1h-1zM289 498h1v1h-1zM291 498h1v1h-1zM290 497h1v1h-1zM290 499h1v1h-1z" fill="#0000ff"/><path d="M283 497h1v1h-1zM282 498h1v1h-1zM283 498h1v1h-1zM284 498h1v1h-1z" fill="#0064ff"/><path d="M275 500h1v1h-1zM274 500h1v1h-1zM276 500h1v1h-1zM275 499h1v1h-1zM275 501h1v1h-1z" fill="#0064ff"/><path d="M295 500h1v1h-1zM294 500h1v1h-1zM296 500h1v1h-1zM295 499h1v1h-1zM295 501h1v1h-1z" fill="#0064ff"/><path d="M287 500h1v1h-1zM287 501h1v1h-1zM287 502h1v1h-1zM288 501h1v1h-1z" fill="#0030ff"/><path d="M284 499h1v1h-1zM283 499h1v1h-1zM285 499h1v1h-1zM284 498h1v1h-1zM284 500h1v1h-1z" fill="#0030ff"/><path d="M287 500h1v1h-1zM286 500h1v1h-1zM288 500h1v1h-1zM287 499h1v1h-1zM287 501h1v1h-1z" fill="#0064ff"/><path d="M285 501h1v1h-1zM284 501h1v1h-1zM286 501h1v1h-1zM285 500h1v1h-1zM285 502h1v1h-1z" fill="#0030ff"/><path d="M296 501h1v1h-1zM295 501h1v1h-1zM297 501h1v1h-1zM296 500h1v1h-1zM296 502h1v1h-1z" fill="#00a0ff"/><path d="M288 499h1v1h-1zM288 500h1v1h-1zM288 501h1v1h-1zM287 500h1v1h-1z" fill="#0064ff"/><path d="M300 501h1v1h-1zM299 501h1v1h-1zM301 501h1v1h-1zM300 500h1v1h-1zM300 502h1v1h-1z" fill="#0064ff"/><path d="M302 497h1v1h-1zM301 498h1v1h-1zM302 498h1v1h-1zM303 498h1v1h-1z" fill="#0064ff"/><path d="M278 499h1v1h-1zM279 499h1v1h-1zM280 499h1v1h-1zM279 500h1v1h-1z" fill="#0030ff"/><path d="M301 497h1v1h-1zM300 497h1v1h-1zM302 497h1v1h-1zM301 496h1v1h-1zM301 498h1v1h-1z" fill="#0030ff"/><path d="M282 498h1v1h-1zM281 498h1v1h-1zM283 498h1v1h-1zM282 497h1v1h-1zM282 499h1v1h-1z" fill="#0064ff"/><path d="M295 497h1v1h-1zM294 497h1v1h-1zM296 497h1v1h-1zM295 496h1v1h-1zM295 498h1v1h-1z" fill="#00a0ff"/><path d="M282 498h1v1h-1zM281 498h1v1h-1zM283 498h1v1h-1zM282 497h1v1h-1zM282 499h1v1h-1z" fill="#0030ff"/><path d="M290 500h1v1h-1zM289 500h1v1h-1zM291 500h1v1h-1zM290 499h1v1h-1zM290 501h1v1h-1z" fill="#00a0ff"/><path d="M286 501h1v1h-1zM285 501h1v1h-1zM287 501h1v1h-1zM286 500h1v1h-1zM286 502h1v1h-1z" fill="#00a0ff"/><path d="M299 500h1v1h-1zM299 501h1v1h-1zM299 502h1v1h-1zM300 501h1v1h-1z" fill="#0000ff"/><path d="M298 498h1v1h-1zM297 499h1v1h-1zM298 499h1v1h-1zM299 499h1v1h-1z" fill="#00a0ff"/><path d="M321 495h1v1h-1zM321 496h1v1h-1zM321 497h1v1h-1zM322 496h1v1h-1z" fill="#5a00b4"/><path d="M325 492h1v1h-1zM324 492h1v1h-1zM326 492h1v1h-1zM325 491h1v1h-1zM325 493h1v1h-1z" fill="#0000ff"/><path d="M324 493h1v1h-1zM323 493h1v1h-1zM325 493h1v1h-1zM324 492h1v1h-1zM324 494h1v1h-1z" fill="#2000e6"/><path d="M320 492h1v1h-1zM320 493h1v1h-1zM320 494h1v1h-1zM321 493h1v1h-1z" fill="#5a00b4"/><path d="M326 492h1v1h-1zM326 493h1v1h-1zM326 494h1v1h-1zM325 493h1v1h-1z" fill="#0000ff"/><path d="M319 491h1v1h-1zM318 492h1v1h-1zM319 492h1v1h-1zM320 492h1v1h-1z" fill="#0000ff"/><path d="M308 499h1v1h-1zM309 499h1v1h-1zM310 499h1v1h-1zM309 500h1v1h-1z" fill="#0000ff"/><path d="M317 492h1v1h-1zM316 492h1v1h-1zM318 492h1v1h-1zM317 491h1v1h-1zM317 493h1v1h-1z" fill="#0000ff"/><path d="M310 499h1v1h-1zM309 499h1v1h-1zM311 499h1v1h-1zM310 498h1v1h-1zM310 500h1v1h-1z" fill="#0000ff"/><path d="M308 495h1v1h-1zM308 496h1v1h-1zM308 497h1v1h-1zM309 496h1v1h-1z" fill="#5a00b4"/><path d="M321 491h1v1h-1zM320 491h1v1h-1zM322 491h1v1h-1zM321 490h1v1h-1zM321 492h1v1h-1z" fill="#2000e6"/><path d="M323 492h1v1h-1zM323 493h1v1h-1zM323 494h1v1h-1zM324 493h1v1h-1z" fill="#5a00b4"/><path d="M311 497h1v1h-1zM310 497h1v1h-1zM312 497h1v1h-1zM311 496h1v1h-1zM311 498h1v1h-1z" fill="#4600c8"/><path d="M326 496h1v1h-1zM327 496h1v1h-1zM328 496h1v1h-1zM327 497h1v1h-1z" fill="#2000e6"/><path d="M315 496h1v1h-1zM314 496h1v1h-1zM316 496h1v1h-1zM315 495h1v1h-1zM315 497h1v1h-1z" fill="#4600c8"/><path d="M314 496h1v1h-1zM314 497h1v1h-1zM314 498h1v1h-1zM313 497h1v1h-1z" fill="#5a00b4"/><path d="M321 495h1v1h-1zM321 496h1v1h-1zM321 497h1v1h-1zM322 496h1v1h-1z" fill="#5a00b4"/><path d="M306 497h1v1h-1zM305 497h1v1h-1zM307 497h1v1h-1zM306 496h1v1h-1zM306 498h1v1h-1z" fill="#4600c8"/><path d="M312 494h1v1h-1zM311 494h1v1h-1zM313 494h1v1h-1zM312 493h1v1h-1zM312 495h1v1h-1z" fill="#5a00b4"/><path d="M325 490h1v1h-1zM326 490h1v1h-1zM327 490h1v1h-1zM326 491h1v1h-1z" fill="#4600c8"/><path d="M326 495h1v1h-1zM327 495h1v1h-1zM328 495h1v1h-1zM327 496h1v1h-1z" fill="#5a00b4"/><path d="M310 495h1v1h-1zM309 496h1v1h-1zM310 496h1v1h-1zM311 496h1v1h-1z" fill="#5a00b4"/><path d="M313 494h1v1h-1zM312 495h1v1h-1zM313 495h1v1h-1zM314 495h1v1h-1z" fill="#4600c8"/><path d="M316 495h1v1h-1zM315 495h1v1h-1zM317 495h1v1h-1zM316 494h1v1h-1zM316 496h1v1h-1z" fill="#5a00b4"/><path d="M320 492h1v1h-1zM319 492h1v1h-1zM321 492h1v1h-1zM320 491h1v1h-1zM320 493h1v1h-1z" fill="#0000ff"/><path d="M310 494h1v1h-1zM309 494h1v1h-1zM311 494h1v1h-1zM310 493h1v1h-1zM310 495h1v1h-1z" fill="#4600c8"/><path d="M308 494h1v1h-1zM308 495h1v1h-1zM308 496h1v1h-1zM307 495h1v1h-1z" fill="#5a00b4"/><path d="M315 493h1v1h-1zM314 493h1v1h-1zM316 493h1v1h-1zM315 492h1v1h-1zM315 494h1v1h-1z" fill="#4600c8"/><path d="M341 494h1v1h-1zM341 495h1v1h-1zM341 496h1v1h-1zM340 495h1v1h-1z" fill="#2000e6"/><path d="M339 496h1v1h-1zM338 496h1v1h-1zM340 496h1v1h-1zM339 495h1v1h-1zM339 497h1v1h-1z" fill="#2000e6"/><path d="M342 494h1v1h-1zM341 494h1v1h-1zM343 494h1v1h-1zM342 493h1v1h-1zM342 495h1v1h-1z" fill="#5a00b4"/><path d="M340 494h1v1h-1zM341 494h1v1h-1zM342 494h1v1h-1zM341 495h1v1h-1z" fill="#0000ff"/><path d="M337 491h1v1h-1zM337 492h1v1h-1zM337 493h1v1h-1zM338 492h1v1h-1z" fill="#2000e6"/><path d="M333 492h1v1h-1zM332 493h1v1h-1zM333 493h1v1h-1zM334 493h1v1h-1z" fill="#2000e6"/><path d="M343 496h1v1h-1zM342 496h1v1h-1zM344 496h1v1h-1zM343 495h1v1h-1zM343 497h1v1h-1z" fill="#2000e6"/><path d="M336 494h1v1h-1zM335 494h1v1h-1zM337 494h1v1h-1zM336 493h1v1h-1zM336 495h1v1h-1z" fill="#5a00b4"/><path d="M337 494h1v1h-1zM336 494h1v1h-1zM338 494h1v1h-1zM337 493h1v1h-1zM337 495h1v1h-1z" fill="#0000ff"/><path d="M346 494h1v1h-1zM345 494h1v1h-1zM347 494h1v1h-1zM346 493h1v1h-1zM346 495h1v1h-1z" fill="#2000e6"/><path d="M340 490h1v1h-1zM339 490h1v1h-1zM341 490h1v1h-1zM340 489h1v1h-1zM340 491h1v1h-1z" fill="#2000e6"/><path d="M343 490h1v1h-1zM343 491h1v1h-1zM343 492h1v1h-1zM342 491h1v1h-1z" fill="#5a00b4"/><path d="M341 492h1v1h-1zM342 492h1v1h-1zM343 492h1v1h-1zM342 493h1v1h-1z" fill="#5a00b4"/><path d="M338 491h1v1h-1zM337 491h1v1h-1zM339 491h1v1h-1zM338 490h1v1h-1zM338 492h1v1h-1z" fill="#2000e6"/><path d="M335 494h1v1h-1zM334 494h1v1h-1zM336 494h1v1h-1zM335 493h1v1h-1zM335 495h1v1h-1z" fill="#2000e6"/><path d="M340 491h1v1h-1zM339 492h1v1h-1zM340 492h1v1h-1zM341 492h1v1h-1z" fill="#2000e6"/><path d="M339 491h1v1h-1zM340 491h1v1h-1zM341 491h1v1h-1zM340 492h1v1h-1z" fill="#0000ff"/><path d="M342 492h1v1h-1zM341 493h1v1h-1zM342 493h1v1h-1zM343 493h1v1h-1z" fill="#2000e6"/><path d="M364 487h1v1h-1zM363 487h1v1h-1zM365 487h1v1h-1zM364 486h1v1h-1zM364 488h1v1h-1z" fill="#0030ff"/><path d="M358 489h1v1h-1zM357 489h1v1h-1zM359 489h1v1h-1zM358 488h1v1h-1zM358 490h1v1h-1z" fill="#0030ff"/><path d="M355 490h1v1h-1zM355 491h1v1h-1zM355 492h1v1h-1zM354 491h1v1h-1z" fill="#0030ff"/><path d="M360 491h1v1h-1zM359 491h1v1h-1zM361 491h1v1h-1zM360 490h1v1h-1zM360 492h1v1h-1z" fill="#0000ff"/><path d="M353 489h1v1h-1zM353 490h1v1h-1zM353 491h1v1h-1zM352 490h1v1h-1z" fill="#0000ff"/><path d="M352 489h1v1h-1zM351 489h1v1h-1zM353 489h1v1h-1zM352 488h1v1h-1zM352 490h1v1h-1z" fill="#2000e6"/><path d="M354 490h1v1h-1zM353 490h1v1h-1zM355 490h1v1h-1zM354 489h1v1h-1zM354 491h1v1h-1z" fill="#2000e6"/><path d="M361 486h1v1h-1zM360 486h1v1h-1zM362 486h1v1h-1zM361 485h1v1h-1zM361 487h1v1h-1z" fill="#0030ff"/><path d="M357 489h1v1h-1zM357 490h1v1h-1zM357 491h1v1h-1zM358 490h1v1h-1z" fill="#0000ff"/><path d="M356 492h1v1h-1zM356 493h1v1h-1zM356 494h1v1h-1zM355 493h1v1h-1z" fill="#0030ff"/><path d="M363 488h1v1h-1zM363 489h1v1h-1zM363 490h1v1h-1zM362 489h1v1h-1z" fill="#2000e6"/><path d="M364 485h1v1h-1zM363 486h1v1h-1zM364 486h1v1h-1zM365 486h1v1h-1z" fill="#0000ff"/><path d="M359 488h1v1h-1zM358 489h1v1h-1zM359 489h1v1h-1zM360 489h1v1h-1z" fill="#0000ff"/><path d="M365 486h1v1h-1zM365 487h1v1h-1zM365 488h1v1h-1zM364 487h1v1h-1z" fill="#0030ff"/><path d="M362 490h1v1h-1zM361 490h1v1h-1zM363 490h1v1h-1zM362 489h1v1h-1zM362 491h1v1h-1z" fill="#2000e6"/><path d="M354 492h1v1h-1zM354 493h1v1h-1zM354 494h1v1h-1zM353 493h1v1h-1z" fill="#0000ff"/><path d="M367 489h1v1h-1zM366 489h1v1h-1zM368 489h1v1h-1zM367 488h1v1h-1zM367 490h1v1h-1z" fill="#0000ff"/><path d="M359 491h1v1h-1zM358 491h1v1h-1zM360 491h1v1h-1zM359 490h1v1h-1zM359 492h1v1h-1z" fill="#0000ff"/><path d="M367 490h1v1h-1zM366 491h1v1h-1zM367 491h1v1h-1zM368 491h1v1h-1z" fill="#0030ff"/><path d="M365 489h1v1h-1zM364 489h1v1h-1zM366 489h1v1h-1zM365 488h1v1h-1zM365 490h1v1h-1z" fill="#0000ff"/><path d="M361 489h1v1h-1zM360 489h1v1h-1zM362 489h1v1h-1zM361 488h1v1h-1zM361 490h1v1h-1z" fill="#0000ff"/><path d="M352 491h1v1h-1zM352 492h1v1h-1zM352 493h1v1h-1zM353 492h1v1h-1z" fill="#0000ff"/><path d="M350 488h1v1h-1zM349 488h1v1h-1zM351 488h1v1h-1zM350 487h1v1h-1zM350 489h1v1h-1z" fill="#2000e6"/><path d="M356 485h1v1h-1zM356 486h1v1h-1zM356 487h1v1h-1zM355 486h1v1h-1z" fill="#2000e6"/><path d="M376 491h1v1h-1zM375 491h1v1h-1zM377 491h1v1h-1zM376 490h1v1h-1zM376 492h1v1h-1z" fill="#2000e6"/><path d="M377 489h1v1h-1zM378 489h1v1h-1zM379 489h1v1h-1zM378 490h1v1h-1z" fill="#0000ff"/><path d="M378 486h1v1h-1zM377 486h1v1h-1zM379 486h1v1h-1zM378 485h1v1h-1zM378 487h1v1h-1z" fill="#0030ff"/><path d="M376 492h1v1h-1zM375 492h1v1h-1zM377 492h1v1h-1zM376 491h1v1h-1zM376 493h1v1h-1z" fill="#0000ff"/><path d="M378 492h1v1h-1zM377 492h1v1h-1zM379 492h1v1h-1zM378 491h1v1h-1zM378 493h1v1h-1z" fill="#0030ff"/><path d="M376 492h1v1h-1zM375 492h1v1h-1zM377 492h1v1h-1zM376 491h1v1h-1zM376 493h1v1h-1z" fill="#2000e6"/><path d="M376 492h1v1h-1zM375 492h1v1h-1zM377 492h1v1h-1zM376 491h1v1h-1zM376 493h1v1h-1z" fill="#0000ff"/><path d="M378 491h1v1h-1zM378 492h1v1h-1zM378 493h1v1h-1zM377 492h1v1h-1z" fill="#0000ff"/><path d="M383 485h1v1h-1zM383 486h1v1h-1zM383 487h1v1h-1zM382 486h1v1h-1z" fill="#0030ff"/><path d="M375 487h1v1h-1zM374 487h1v1h-1zM376 487h1v1h-1zM375 486h1v1h-1zM375 488h1v1h-1z" fill="#0000ff"/><path d="M383 487h1v1h-1zM382 487h1v1h-1zM384 487h1v1h-1zM383 486h1v1h-1zM383 488h1v1h-1z" fill="#2000e6"/><path d="M380 486h1v1h-1zM379 487h1v1h-1zM380 487h1v1h-1zM381 487h1v1h-1z" fill="#0000ff"/><path d="M384 489h1v1h-1zM383 489h1v1h-1zM385 489h1v1h-1zM384 488h1v1h-1zM384 490h1v1h-1z" fill="#0000ff"/><path d="M386 492h1v1h-1zM385 492h1v1h-1zM387 492h1v1h-1zM386 491h1v1h-1zM386 493h1v1h-1z" fill="#2000e6"/><path d="M377 489h1v1h-1zM377 490h1v1h-1zM377 491h1v1h-1zM378 490h1v1h-1z" fill="#0000ff"/><path d="M386 489h1v1h-1zM385 489h1v1h-1zM387 489h1v1h-1zM386 488h1v1h-1zM386 490h1v1h-1z" fill="#0000ff"/><path d="M374 489h1v1h-1zM374 490h1v1h-1zM374 491h1v1h-1zM373 490h1v1h-1z" fill="#0000ff"/><path d="M384 486h1v1h-1zM383 486h1v1h-1zM385 486h1v1h-1zM384 485h1v1h-1zM384 487h1v1h-1z" fill="#0000ff"/><path d="M377 487h1v1h-1zM376 487h1v1h-1zM378 487h1v1h-1zM377 486h1v1h-1zM377 488h1v1h-1z" fill="#0000ff"/><path d="M383 485h1v1h-1zM383 486h1v1h-1zM383 487h1v1h-1zM384 486h1v1h-1z" fill="#0000ff"/><path d="M385 489h1v1h-1zM385 490h1v1h-1zM385 491h1v1h-1zM386 490h1v1h-1z" fill="#0000ff"/><path d="M375 485h1v1h-1zM374 486h1v1h-1zM375 486h1v1h-1zM376 486h1v1h-1z" fill="#0000ff"/><path d="M382 491h1v1h-1zM381 491h1v1h-1zM383 491h1v1h-1zM382 490h1v1h-1zM382 492h1v1h-1z" fill="#0000ff"/><path d="M398 490h1v1h-1zM398 491h1v1h-1zM398 492h1v1h-1zM397 491h1v1h-1z" fill="#0000ff"/><path d="M392 489h1v1h-1zM391 489h1v1h-1zM393 489h1v1h-1zM392 488h1v1h-1zM392 490h1v1h-1z" fill="#0030ff"/><path d="M391 490h1v1h-1zM392 490h1v1h-1zM393 490h1v1h-1zM392 491h1v1h-1z" fill="#5a00b4"/><path d="M389 489h1v1h-1zM389 490h1v1h-1zM389 491h1v1h-1zM390 490h1v1h-1z" fill="#0000ff"/><path d="M403 487h1v1h-1zM402 487h1v1h-1zM404 487h1v1h-1zM403 486h1v1h-1zM403 488h1v1h-1z" fill="#2000e6"/><path d="M397 492h1v1h-1zM398 492h1v1h-1zM399 492h1v1h-1zM398 493h1v1h-1z" fill="#5a00b4"/><path d="M403 486h1v1h-1zM402 486h1v1h-1zM404 486h1v1h-1zM403 485h1v1h-1zM403 487h1v1h-1z" fill="#0000ff"/><path d="M398 490h1v1h-1zM397 490h1v1h-1zM399 490h1v1h-1zM398 489h1v1h-1zM398 491h1v1h-1z" fill="#2000e6"/><path d="M388 489h1v1h-1zM389 489h1v1h-1zM390 489h1v1h-1zM389 490h1v1h-1z" fill="#0030ff"/><path d="M401 488h1v1h-1zM401 489h1v1h-1zM401 490h1v1h-1zM400 489h1v1h-1z" fill="#2000e6"/><path d="M392 487h1v1h-1zM391 487h1v1h-1zM393 487h1v1h-1zM392 486h1v1h-1zM392 488h1v1h-1z" fill="#5a00b4"/><path d="M393 489h1v1h-1zM392 489h1v1h-1zM394 489h1v1h-1zM393 488h1v1h-1zM393 490h1v1h-1z" fill="#2000e6"/><path d="M390 491h1v1h-1zM389 491h1v1h-1zM391 491h1v1h-1zM390 490h1v1h-1zM390 492h1v1h-1z" fill="#2000e6"/><path d="M401 490h1v1h-1zM400 490h1v1h-1zM402 490h1v1h-1zM401 489h1v1h-1zM401 491h1v1h-1z" fill="#0000ff"/><path d="M392 492h1v1h-1zM391 492h1v1h-1zM393 492h1v1h-1zM392 491h1v1h-1zM392 493h1v1h-1z" fill="#2000e6"/><path d="M395 488h1v1h-1zM394 488h1v1h-1zM396 488h1v1h-1zM395 487h1v1h-1zM395 489h1v1h-1z" fill="#5a00b4"/><path d="M404 491h1v1h-1zM405 491h1v1h-1zM406 491h1v1h-1zM405 492h1v1h-1z" fill="#2000e6"/><path d="M392 489h1v1h-1zM392 490h1v1h-1zM392 491h1v1h-1zM391 490h1v1h-1z" fill="#2000e6"/><path d="M395 493h1v1h-1zM396 493h1v1h-1zM397 493h1v1h-1zM396 494h1v1h-1z" fill="#0030ff"/><path d="M394 493h1v1h-1zM393 493h1v1h-1zM395 493h1v1h-1zM394 492h1v1h-1zM394 494h1v1h-1z" fill="#2000e6"/><path d="M391 489h1v1h-1zM390 490h1v1h-1zM391 490h1v1h-1zM392 490h1v1h-1z" fill="#0000ff"/><path d="M100 503h1v1h-1zM99 503h1v1h-1zM101 503h1v1h-1zM100 502h1v1h-1zM100 504h1v1h-1z" fill="#0000ff"/><path d="M99 505h1v1h-1zM98 505h1v1h-1zM100 505h1v1h-1zM99 504h1v1h-1zM99 506h1v1h-1z" fill="#0000ff"/><path d="M102 506h1v1h-1zM101 506h1v1h-1zM103 506h1v1h-1zM102 505h1v1h-1zM102 507h1v1h-1z" fill="#0000ff"/><path d="M104 508h1v1h-1zM103 508h1v1h-1zM105 508h1v1h-1zM104 507h1v1h-1zM104 509h1v1h-1z" fill="#0000ff"/><path d="M104 509h1v1h-1zM103 510h1v1h-1zM104 510h1v1h-1zM105 510h1v1h-1z" fill="#0000ff"/><path d="M105 502h1v1h-1zM106 502h1v1h-1zM107 502h1v1h-1zM106 503h1v1h-1z" fill="#0000ff"/><path d="M107 505h1v1h-1zM106 505h1v1h-1zM108 505h1v1h-1zM107 504h1v1h-1zM107 506h1v1h-1z" fill="#0000ff"/><path d="M108 508h1v1h-1zM107 508h1v1h-1zM109 508h1v1h-1zM108 507h1v1h-1zM108 509h1v1h-1z" fill="#0000ff"/><path d="M111 503h1v1h-1zM110 503h1v1h-1zM112 503h1v1h-1zM111 502h1v1h-1zM111 504h1v1h-1z" fill="#0064ff"/><path d="M111 506h1v1h-1zM110 506h1v1h-1zM112 506h1v1h-1zM111 505h1v1h-1zM111 507h1v1h-1z" fill="#0064ff"/><path d="M110 500h1v1h-1zM111 500h1v1h-1zM112 500h1v1h-1zM111 501h1v1h-1z" fill="#5a00b4"/><path d="M114 498h1v1h-1zM113 498h1v1h-1zM115 498h1v1h-1zM114 497h1v1h-1zM114 499h1v1h-1z" fill="#0064ff"/><path d="M115 500h1v1h-1zM114 500h1v1h-1zM116 500h1v1h-1zM115 499h1v1h-1zM115 501h1v1h-1z" fill="#0064ff"/><path d="M115 506h1v1h-1zM114 506h1v1h-1zM116 506h1v1h-1zM115 505h1v1h-1zM115 507h1v1h-1z" fill="#0000ff"/><path d="M117 503h1v1h-1zM116 503h1v1h-1zM118 503h1v1h-1zM117 502h1v1h-1zM117 504h1v1h-1z" fill="#0000ff"/><path d="M120 503h1v1h-1zM119 503h1v1h-1zM121 503h1v1h-1zM120 502h1v1h-1zM120 504h1v1h-1z" fill="#0000ff"/><path d="M120 497h1v1h-1zM121 497h1v1h-1zM122 497h1v1h-1zM121 498h1v1h-1z" fill="#5a00b4"/><path d="M122 503h1v1h-1zM121 503h1v1h-1zM123 503h1v1h-1zM122 502h1v1h-1zM122 504h1v1h-1z" fill="#0000ff"/><path d="M122 507h1v1h-1zM121 507h1v1h-1zM123 507h1v1h-1zM122 506h1v1h-1zM122 508h1v1h-1z" fill="#0000ff"/><path d="M123 507h1v1h-1zM122 507h1v1h-1zM124 507h1v1h-1zM123 506h1v1h-1zM123 508h1v1h-1z" fill="#0000ff"/><path d="M126 501h1v1h-1zM125 501h1v1h-1zM127 501h1v1h-1zM126 500h1v1h-1zM126 502h1v1h-1z" fill="#0000ff"/><path d="M127 503h1v1h-1zM126 503h1v1h-1zM128 503h1v1h-1zM127 502h1v1h-1zM127 504h1v1h-1z" fill="#0000ff"/><path d="M126 505h1v1h-1zM125 505h1v1h-1zM127 505h1v1h-1zM126 504h1v1h-1zM126 506h1v1h-1z" fill="#0000ff"/><path d="M129 506h1v1h-1zM128 506h1v1h-1zM130 506h1v1h-1zM129 505h1v1h-1zM129 507h1v1h-1z" fill="#0064ff"/><path d="M131 504h1v1h-1zM130 504h1v1h-1zM132 504h1v1h-1zM131 503h1v1h-1zM131 505h1v1h-1z" fill="#0064ff"/><path d="M129 497h1v1h-1zM130 497h1v1h-1zM131 497h1v1h-1zM130 498h1v1h-1z" fill="#0000ff"/><path d="M117 512h1v1h-1zM116 512h1v1h-1zM118 512h1v1h-1zM117 511h1v1h-1zM117 513h1v1h-1z" fill="#0000ff"/><path d="M119 514h1v1h-1zM118 514h1v1h-1zM120 514h1v1h-1zM119 513h1v1h-1zM119 515h1v1h-1z" fill="#0064ff"/><path d="M125 512h1v1h-1zM125 513h1v1h-1zM125 514h1v1h-1zM124 513h1v1h-1z" fill="#0064ff"/><path d="M137 502h1v1h-1zM136 502h1v1h-1zM138 502h1v1h-1zM137 501h1v1h-1zM137 503h1v1h-1z" fill="#0000ff"/><path d="M137 504h1v1h-1zM136 504h1v1h-1zM138 504h1v1h-1zM137 503h1v1h-1zM137 505h1v1h-1z" fill="#0000ff"/><path d="M141 504h1v1h-1zM140 504h1v1h-1zM142 504h1v1h-1zM141 503h1v1h-1zM141 505h1v1h-1z" fill="#0000ff"/><path d="M141 509h1v1h-1zM140 509h1v1h-1zM142 509h1v1h-1zM141 508h1v1h-1zM141 510h1v1h-1z" fill="#0000ff"/><path d="M144 505h1v1h-1zM143 505h1v1h-1zM145 505h1v1h-1zM144 504h1v1h-1zM144 506h1v1h-1z" fill="#0000ff"/><path d="M144 508h1v1h-1zM143 508h1v1h-1zM145 508h1v1h-1zM144 507h1v1h-1zM144 509h1v1h-1z" fill="#0000ff"/><path d="M139 506h1v1h-1zM138 506h1v1h-1zM140 506h1v1h-1zM139 505h1v1h-1zM139 507h1v1h-1z" fill="#0000ff"/><path d="M143 504h1v1h-1zM142 504h1v1h-1zM144 504h1v1h-1zM143 503h1v1h-1zM143 505h1v1h-1z" fill="#0000ff"/><path d="M153 501h1v1h-1zM152 501h1v1h-1zM154 501h1v1h-1zM153 500h1v1h-1zM153 502h1v1h-1z" fill="#0000ff"/><path d="M154 507h1v1h-1zM153 507h1v1h-1zM155 507h1v1h-1zM154 506h1v1h-1zM154 508h1v1h-1z" fill="#5a00b4"/><path d="M178 499h1v1h-1zM177 499h1v1h-1zM179 499h1v1h-1zM178 498h1v1h-1zM178 500h1v1h-1z" fill="#0000ff"/><path d="M194 499h1v1h-1zM195 499h1v1h-1zM196 499h1v1h-1zM195 500h1v1h-1z" fill="#0000ff"/><path d="M185 508h1v1h-1zM184 508h1v1h-1zM186 508h1v1h-1zM185 507h1v1h-1zM185 509h1v1h-1z" fill="#0000ff"/><path d="M160 513h1v1h-1zM160 514h1v1h-1zM160 515h1v1h-1zM161 514h1v1h-1z" fill="#0000ff"/><path d="M196 506h1v1h-1zM195 506h1v1h-1zM197 506h1v1h-1zM196 505h1v1h-1zM196 507h1v1h-1z" fill="#4600c8"/><path d="M237 486h1v1h-1zM236 486h1v1h-1zM238 486h1v1h-1zM237 485h1v1h-1zM237 487h1v1h-1z" fill="#0000ff"/><path d="M243 487h1v1h-1zM243 488h1v1h-1zM243 489h1v1h-1zM242 488h1v1h-1z" fill="#0064ff"/><path d="M242 494h1v1h-1zM243 494h1v1h-1zM244 494h1v1h-1zM243 495h1v1h-1z" fill="#0000ff"/><path d="M236 498h1v1h-1zM235 498h1v1h-1zM237 498h1v1h-1zM236 497h1v1h-1zM236 499h1v1h-1z" fill="#0000ff"/><path d="M241 499h1v1h-1zM240 499h1v1h-1zM242 499h1v1h-1zM241 498h1v1h-1zM241 500h1v1h-1z" fill="#0064ff"/><path d="M247 498h1v1h-1zM246 498h1v1h-1zM248 498h1v1h-1zM247 497h1v1h-1zM247 499h1v1h-1z" fill="#0000ff"/><path d="M250 498h1v1h-1zM249 498h1v1h-1zM251 498h1v1h-1zM250 497h1v1h-1zM250 499h1v1h-1z" fill="#0064ff"/><path d="M252 499h1v1h-1zM252 500h1v1h-1zM252 501h1v1h-1zM251 500h1v1h-1z" fill="#0064ff"/><path d="M244 501h1v1h-1zM243 501h1v1h-1zM245 501h1v1h-1zM244 500h1v1h-1zM244 502h1v1h-1z" fill="#0000ff"/><path d="M242 503h1v1h-1zM241 503h1v1h-1zM243 503h1v1h-1zM242 502h1v1h-1zM242 504h1v1h-1z" fill="#0000ff"/><path d="M245 503h1v1h-1zM244 503h1v1h-1zM246 503h1v1h-1zM245 502h1v1h-1zM245 504h1v1h-1z" fill="#0000ff"/><path d="M250 502h1v1h-1zM249 502h1v1h-1zM251 502h1v1h-1zM250 501h1v1h-1zM250 503h1v1h-1z" fill="#0064ff"/><path d="M250 507h1v1h-1zM250 508h1v1h-1zM250 509h1v1h-1zM251 508h1v1h-1z" fill="#00e0ff"/><path d="M259 506h1v1h-1zM258 506h1v1h-1zM260 506h1v1h-1zM259 505h1v1h-1zM259 507h1v1h-1z" fill="#0000ff"/><path d="M213 506h1v1h-1zM213 507h1v1h-1zM213 508h1v1h-1zM212 507h1v1h-1z" fill="#0000ff"/><path d="M205 506h1v1h-1zM204 506h1v1h-1zM206 506h1v1h-1zM205 505h1v1h-1zM205 507h1v1h-1z" fill="#0000ff"/><path d="M270 494h1v1h-1zM269 495h1v1h-1zM270 495h1v1h-1zM271 495h1v1h-1z" fill="#0000ff"/><path d="M296 490h1v1h-1zM295 490h1v1h-1zM297 490h1v1h-1zM296 489h1v1h-1zM296 491h1v1h-1z" fill="#0000ff"/><path d="M300 490h1v1h-1zM301 490h1v1h-1zM302 490h1v1h-1zM301 491h1v1h-1z" fill="#00e0ff"/><path d="M293 495h1v1h-1zM292 495h1v1h-1zM294 495h1v1h-1zM293 494h1v1h-1zM293 496h1v1h-1z" fill="#0064ff"/><path d="M299 495h1v1h-1zM298 495h1v1h-1zM300 495h1v1h-1zM299 494h1v1h-1zM299 496h1v1h-1z" fill="#0064ff"/><path d="M296 501h1v1h-1zM295 501h1v1h-1zM297 501h1v1h-1zM296 500h1v1h-1zM296 502h1v1h-1z" fill="#0000ff"/><path d="M276 504h1v1h-1zM277 504h1v1h-1zM278 504h1v1h-1zM277 505h1v1h-1z" fill="#0064ff"/><path d="M291 505h1v1h-1zM291 506h1v1h-1zM291 507h1v1h-1zM290 506h1v1h-1z" fill="#0000ff"/><path d="M324 488h1v1h-1zM323 488h1v1h-1zM325 488h1v1h-1zM324 487h1v1h-1zM324 489h1v1h-1z" fill="#0000ff"/><path d="M317 490h1v1h-1zM317 491h1v1h-1zM317 492h1v1h-1zM318 491h1v1h-1z" fill="#5a00b4"/><path d="M325 499h1v1h-1zM325 500h1v1h-1zM325 501h1v1h-1zM324 500h1v1h-1z" fill="#0000ff"/><path d="M343 484h1v1h-1zM343 485h1v1h-1zM343 486h1v1h-1zM342 485h1v1h-1z" fill="#0000ff"/><path d="M354 495h1v1h-1zM354 496h1v1h-1zM354 497h1v1h-1zM355 496h1v1h-1z" fill="#0000ff"/><path d="M349 490h1v1h-1zM349 491h1v1h-1zM349 492h1v1h-1zM350 491h1v1h-1z" fill="#0064ff"/><path d="M351 487h1v1h-1zM352 487h1v1h-1zM353 487h1v1h-1zM352 488h1v1h-1z" fill="#0064ff"/><path d="M355 485h1v1h-1zM356 485h1v1h-1zM357 485h1v1h-1zM356 486h1v1h-1z" fill="#5a00b4"/><path d="M363 493h1v1h-1zM362 493h1v1h-1zM364 493h1v1h-1zM363 492h1v1h-1zM363 494h1v1h-1z" fill="#0064ff"/><path d="M367 492h1v1h-1zM366 492h1v1h-1zM368 492h1v1h-1zM367 491h1v1h-1zM367 493h1v1h-1z" fill="#00e0ff"/><path d="M365 486h1v1h-1zM364 486h1v1h-1zM366 486h1v1h-1zM365 485h1v1h-1zM365 487h1v1h-1z" fill="#0064ff"/><path d="M367 486h1v1h-1zM366 486h1v1h-1zM368 486h1v1h-1zM367 485h1v1h-1zM367 487h1v1h-1z" fill="#0064ff"/><path d="M345 495h1v1h-1zM344 495h1v1h-1zM346 495h1v1h-1zM345 494h1v1h-1zM345 496h1v1h-1z" fill="#0000ff"/><path d="M375 486h1v1h-1zM374 486h1v1h-1zM376 486h1v1h-1zM375 485h1v1h-1zM375 487h1v1h-1z" fill="#5a00b4"/><path d="M378 497h1v1h-1zM377 497h1v1h-1zM379 497h1v1h-1zM378 496h1v1h-1zM378 498h1v1h-1z" fill="#0000ff"/><path d="M382 497h1v1h-1zM381 497h1v1h-1zM383 497h1v1h-1zM382 496h1v1h-1zM382 498h1v1h-1z" fill="#0064ff"/><path d="M390 483h1v1h-1zM389 483h1v1h-1zM391 483h1v1h-1zM390 482h1v1h-1zM390 484h1v1h-1z" fill="#0064ff"/><path d="M392 486h1v1h-1zM391 486h1v1h-1zM393 486h1v1h-1zM392 485h1v1h-1zM392 487h1v1h-1z" fill="#0000ff"/><path d="M392 490h1v1h-1zM391 490h1v1h-1zM393 490h1v1h-1zM392 489h1v1h-1zM392 491h1v1h-1z" fill="#5a00b4"/><path d="M392 494h1v1h-1zM391 494h1v1h-1zM393 494h1v1h-1zM392 493h1v1h-1zM392 495h1v1h-1z" fill="#5a00b4"/><path d="M398 492h1v1h-1zM397 492h1v1h-1zM399 492h1v1h-1zM398 491h1v1h-1zM398 493h1v1h-1z" fill="#5a00b4"/><path d="M403 474h1v1h-1zM403 475h1v1h-1zM403 476h1v1h-1zM404 475h1v1h-1z" fill="#0064ff"/><path d="M404 474h1v1h-1zM403 474h1v1h-1zM405 474h1v1h-1zM404 473h1v1h-1zM404 475h1v1h-1z" fill="#5a00b4"/><path d="M402 482h1v1h-1zM402 483h1v1h-1zM402 484h1v1h-1zM403 483h1v1h-1z" fill="#0000ff"/><path d="M400 489h1v1h-1zM399 489h1v1h-1zM401 489h1v1h-1zM400 488h1v1h-1zM400 490h1v1h-1z" fill="#0064ff"/><path d="M396 488h1v1h-1zM395 488h1v1h-1zM397 488h1v1h-1zM396 487h1v1h-1zM396 489h1v1h-1z" fill="#0000ff"/><path d="M399 491h1v1h-1zM398 491h1v1h-1zM400 491h1v1h-1zM399 490h1v1h-1zM399 492h1v1h-1z" fill="#5a00b4"/><path d="M399 492h1v1h-1zM399 493h1v1h-1zM399 494h1v1h-1zM400 493h1v1h-1z" fill="#0000ff"/><path d="M400 486h1v1h-1zM399 486h1v1h-1zM401 486h1v1h-1zM400 485h1v1h-1zM400 487h1v1h-1z" fill="#0000ff"/><path d="M402 482h1v1h-1zM402 483h1v1h-1zM402 484h1v1h-1zM403 483h1v1h-1z" fill="#0064ff"/><path d="M404 485h1v1h-1zM403 485h1v1h-1zM405 485h1v1h-1zM404 484h1v1h-1zM404 486h1v1h-1z" fill="#0000ff"/><path d="M404 489h1v1h-1zM403 489h1v1h-1zM405 489h1v1h-1zM404 488h1v1h-1zM404 490h1v1h-1z" fill="#0000ff"/><path d="M407 484h1v1h-1zM406 484h1v1h-1zM408 484h1v1h-1zM407 483h1v1h-1zM407 485h1v1h-1z" fill="#0064ff"/><path d="M406 486h1v1h-1zM405 486h1v1h-1zM407 486h1v1h-1zM406 485h1v1h-1zM406 487h1v1h-1z" fill="#0000ff"/><path d="M408 486h1v1h-1zM407 486h1v1h-1zM409 486h1v1h-1zM408 485h1v1h-1zM408 487h1v1h-1z" fill="#0064ff"/><path d="M408 488h1v1h-1zM407 488h1v1h-1zM409 488h1v1h-1zM408 487h1v1h-1zM408 489h1v1h-1z" fill="#0064ff"/><path d="M413 483h1v1h-1zM413 484h1v1h-1zM413 485h1v1h-1zM412 484h1v1h-1z" fill="#0000ff"/><path d="M416 486h1v1h-1zM415 486h1v1h-1zM417 486h1v1h-1zM416 485h1v1h-1zM416 487h1v1h-1z" fill="#0064ff"/><path d="M415 488h1v1h-1zM414 488h1v1h-1zM416 488h1v1h-1zM415 487h1v1h-1zM415 489h1v1h-1z" fill="#0000ff"/><path d="M417 490h1v1h-1zM417 491h1v1h-1zM417 492h1v1h-1zM418 491h1v1h-1z" fill="#0000ff"/><path d="M413 490h1v1h-1zM413 491h1v1h-1zM413 492h1v1h-1zM414 491h1v1h-1z" fill="#0000ff"/><path d="M421 489h1v1h-1zM421 490h1v1h-1zM421 491h1v1h-1zM420 490h1v1h-1z" fill="#0000ff"/><path d="M425 490h1v1h-1zM424 490h1v1h-1zM426 490h1v1h-1zM425 489h1v1h-1zM425 491h1v1h-1z" fill="#5a00b4"/><path d="M428 486h1v1h-1zM428 487h1v1h-1zM428 488h1v1h-1zM429 487h1v1h-1z" fill="#5a00b4"/><path d="M441 480h1v1h-1zM440 480h1v1h-1zM442 480h1v1h-1zM441 479h1v1h-1zM441 481h1v1h-1z" fill="#0000ff"/><path d="M444 460h1v1h-1zM445 460h1v1h-1zM446 460h1v1h-1zM445 461h1v1h-1z" fill="#00a0ff"/><path d="M439 463h1v1h-1zM439 464h1v1h-1zM439 465h1v1h-1zM440 464h1v1h-1z" fill="#0000ff"/><path d="M441 466h1v1h-1zM440 466h1v1h-1zM442 466h1v1h-1zM441 465h1v1h-1zM441 467h1v1h-1z" fill="#0064ff"/><path d="M447 464h1v1h-1zM447 465h1v1h-1zM447 466h1v1h-1zM446 465h1v1h-1z" fill="#0000ff"/><path d="M440 470h1v1h-1zM439 470h1v1h-1zM441 470h1v1h-1zM440 469h1v1h-1zM440 471h1v1h-1z" fill="#2000e6"/><path d="M426 471h1v1h-1zM425 471h1v1h-1zM427 471h1v1h-1zM426 470h1v1h-1zM426 472h1v1h-1z" fill="#0064ff"/><path d="M433 471h1v1h-1zM432 471h1v1h-1zM434 471h1v1h-1zM433 470h1v1h-1zM433 472h1v1h-1z" fill="#0000ff"/><path d="M434 471h1v1h-1zM433 471h1v1h-1zM435 471h1v1h-1zM434 470h1v1h-1zM434 472h1v1h-1z" fill="#5a00b4"/><path d="M434 475h1v1h-1zM433 475h1v1h-1zM435 475h1v1h-1zM434 474h1v1h-1zM434 476h1v1h-1z" fill="#5a00b4"/><path d="M444 472h1v1h-1zM443 472h1v1h-1zM445 472h1v1h-1zM444 471h1v1h-1zM444 473h1v1h-1z" fill="#0000ff"/><path d="M445 472h1v1h-1zM444 472h1v1h-1zM446 472h1v1h-1zM445 471h1v1h-1zM445 473h1v1h-1z" fill="#0000ff"/><path d="M441 474h1v1h-1zM440 475h1v1h-1zM441 475h1v1h-1zM442 475h1v1h-1z" fill="#0000ff"/><path d="M448 472h1v1h-1zM447 472h1v1h-1zM449 472h1v1h-1zM448 471h1v1h-1zM448 473h1v1h-1z" fill="#0000ff"/><path d="M452 473h1v1h-1zM451 473h1v1h-1zM453 473h1v1h-1zM452 472h1v1h-1zM452 474h1v1h-1z" fill="#5a00b4"/><path d="M454 471h1v1h-1zM454 472h1v1h-1zM454 473h1v1h-1zM453 472h1v1h-1z" fill="#00e0ff"/><path d="M457 472h1v1h-1zM456 472h1v1h-1zM458 472h1v1h-1zM457 471h1v1h-1zM457 473h1v1h-1z" fill="#0064ff"/></g>
</svg></body></html>
